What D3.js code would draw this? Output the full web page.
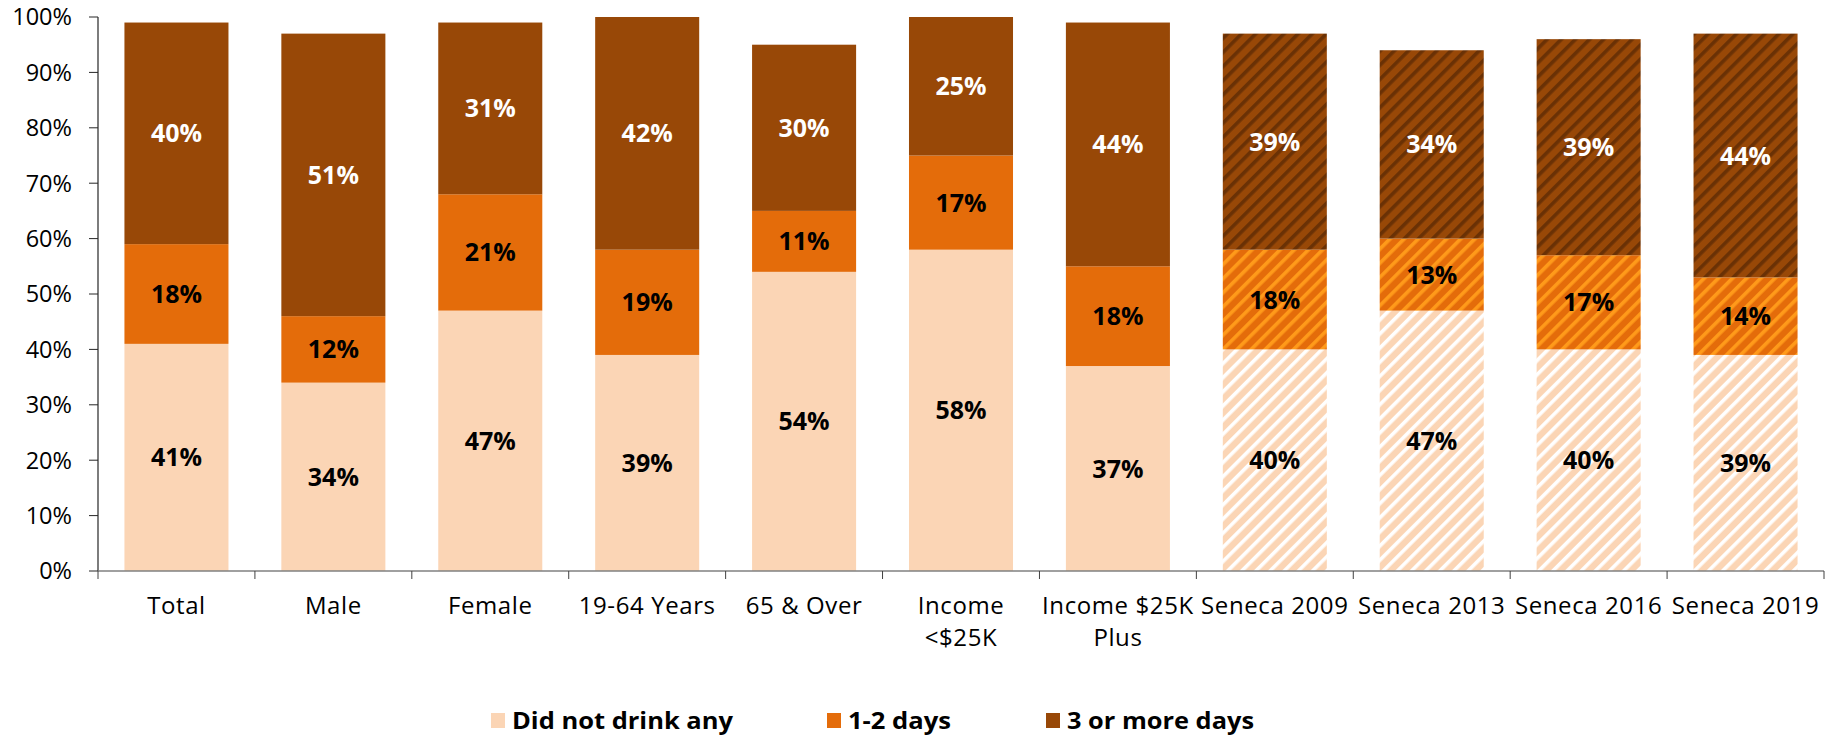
<!DOCTYPE html>
<html>
<head>
<meta charset="utf-8">
<script src="https://cdn.jsdelivr.net/npm/d3@7"></script>
<style>
  body { margin: 0; background: #fff; }
  svg { display: block; font-family: "Open Sans", "Noto Sans", sans-serif; }
</style>
</head>
<body>
<svg id="chart" width="1835" height="738"></svg>
<script>
(function() {
  'use strict';

  // categories (multi-line tick labels)
  var categories = ["Total", "Male", "Female", "19-64 Years", "65 & Over", "Income <$25K",
                    "Income $25K Plus", "Seneca 2009", "Seneca 2013", "Seneca 2016", "Seneca 2019"];
  var tickLines = [["Total"], ["Male"], ["Female"], ["19-64 Years"], ["65 & Over"], ["Income", "<$25K"],
                   ["Income $25K", "Plus"], ["Seneca 2009"], ["Seneca 2013"], ["Seneca 2016"], ["Seneca 2019"]];
  var hatched = [false, false, false, false, false, false, false, true, true, true, true];

  // series values (%)
  var didNotDrink = [41, 34, 47, 39, 54, 58, 37, 40, 47, 40, 39];
  var oneTwoDays  = [18, 12, 21, 19, 11, 17, 18, 18, 13, 17, 14];
  var threePlus   = [40, 51, 31, 42, 30, 25, 44, 39, 34, 39, 44];

  var seriesNames = ["Did not drink any", "1-2 days", "3 or more days"];
  var yTicks = [0, 10, 20, 30, 40, 50, 60, 70, 80, 90, 100];

  var colors = ["#FBD5B5", "#E46C0A", "#984807"];
  var stripeColors = ["#ffffff", "#FF9A1A", "#6A3105"];
  var labelColors = ["#000", "#000", "#fff"];

  var svg = d3.select("#chart"),
      left = 98, right = 1824, top = 17, bottom = 571;

  var x = d3.scaleBand().domain(categories).range([left, right])
    .paddingInner(0.337).paddingOuter(0.337 / 2);
  var y = d3.scaleLinear().domain([0, 100]).range([bottom, top]);

  // hatch patterns for the Seneca bars
  var defs = svg.append("defs");
  colors.forEach(function(c, i) {
    var p = defs.append("pattern")
      .attr("id", "hatch" + i)
      .attr("patternUnits", "userSpaceOnUse")
      .attr("width", 10).attr("height", 10)
      .attr("patternTransform", "rotate(45)");
    p.append("rect").attr("width", 10).attr("height", 10).attr("fill", c);
    p.append("rect").attr("width", 3.6).attr("height", 10).attr("fill", stripeColors[i]);
  });

  // build stacked data
  var table = categories.map(function(c, i) {
    return { cat: c, s0: didNotDrink[i], s1: oneTwoDays[i], s2: threePlus[i], hatched: hatched[i] };
  });
  var stack = d3.stack().keys(["s0", "s1", "s2"])(table);

  var layers = svg.selectAll(".layer")
    .data(stack)
    .enter().append("g")
    .attr("class", "layer");

  layers.selectAll("rect")
    .data(function(d) { return d.map(function(v) { v.key = d.index; return v; }); })
    .enter().append("rect")
    .attr("x", function(d) { return x(d.data.cat); })
    .attr("y", function(d) { return y(d[1]); })
    .attr("width", x.bandwidth())
    .attr("height", function(d) { return y(d[0]) - y(d[1]); })
    .attr("fill", function(d) { return d.data.hatched ? "url(#hatch" + d.key + ")" : colors[d.key]; });

  layers.selectAll("text")
    .data(function(d) { return d; })
    .enter().append("text")
    .attr("x", function(d) { return x(d.data.cat) + x.bandwidth() / 2; })
    .attr("y", function(d) { return y((d[0] + d[1]) / 2); })
    .attr("dy", "0.36em")
    .attr("text-anchor", "middle")
    .attr("font-size", 25)
    .attr("font-weight", "bold")
    .attr("fill", function(d) { return labelColors[d.key]; })
    .text(function(d) { return (d[1] - d[0]) + "%"; });

  // y axis
  var gy = svg.append("g");
  gy.append("line").attr("x1", left).attr("x2", left).attr("y1", top).attr("y2", bottom)
    .attr("stroke", "#262626").attr("stroke-width", 1.2);
  gy.selectAll(".yt").data(yTicks).enter().append("line")
    .attr("x1", left - 9).attr("x2", left)
    .attr("y1", function(d) { return y(d); }).attr("y2", function(d) { return y(d); })
    .attr("stroke", "#262626");
  gy.selectAll(".yl").data(yTicks).enter().append("text")
    .attr("x", 72).attr("y", function(d) { return y(d); })
    .attr("dy", "0.36em")
    .attr("text-anchor", "end")
    .attr("font-size", 23.5)
    .attr("fill", "#000")
    .text(function(d) { return d + "%"; });

  // x axis
  var gx = svg.append("g");
  gx.append("line").attr("x1", left).attr("x2", right).attr("y1", bottom).attr("y2", bottom)
    .attr("stroke", "#808080").attr("stroke-width", 1.5);
  var step = x.step();
  var boundaries = d3.range(categories.length + 1).map(function(i) { return left + i * step; });
  gx.selectAll(".xt").data(boundaries).enter().append("line")
    .attr("x1", function(d) { return d; }).attr("x2", function(d) { return d; })
    .attr("y1", bottom).attr("y2", bottom + 8)
    .attr("stroke", "#404040");
  var xl = gx.selectAll(".xl").data(categories).enter().append("text")
    .attr("text-anchor", "middle")
    .attr("font-size", 24)
    .attr("letter-spacing", 0.6)
    .attr("fill", "#000");
  xl.each(function(c, i) {
    var t = d3.select(this);
    tickLines[i].forEach(function(line, j) {
      t.append("tspan")
        .attr("x", x(c) + x.bandwidth() / 2)
        .attr("y", 614 + j * 32)
        .text(line);
    });
  });

  // legend
  var legendX = [491, 827, 1046];
  var legendW = [221, 103, 187];
  var lg = svg.selectAll(".legend").data(seriesNames).enter().append("g");
  lg.append("rect")
    .attr("x", function(d, i) { return legendX[i]; })
    .attr("y", 713).attr("width", 14).attr("height", 15)
    .attr("fill", function(d, i) { return colors[i]; });
  lg.append("text")
    .attr("x", function(d, i) { return legendX[i] + 21; })
    .attr("y", 729)
    .attr("font-size", 23)
    .attr("font-weight", "bold")
    .attr("textLength", function(d, i) { return legendW[i]; })
    .attr("lengthAdjust", "spacingAndGlyphs")
    .text(function(d) { return d; });
})();
</script>
</body>
</html>
